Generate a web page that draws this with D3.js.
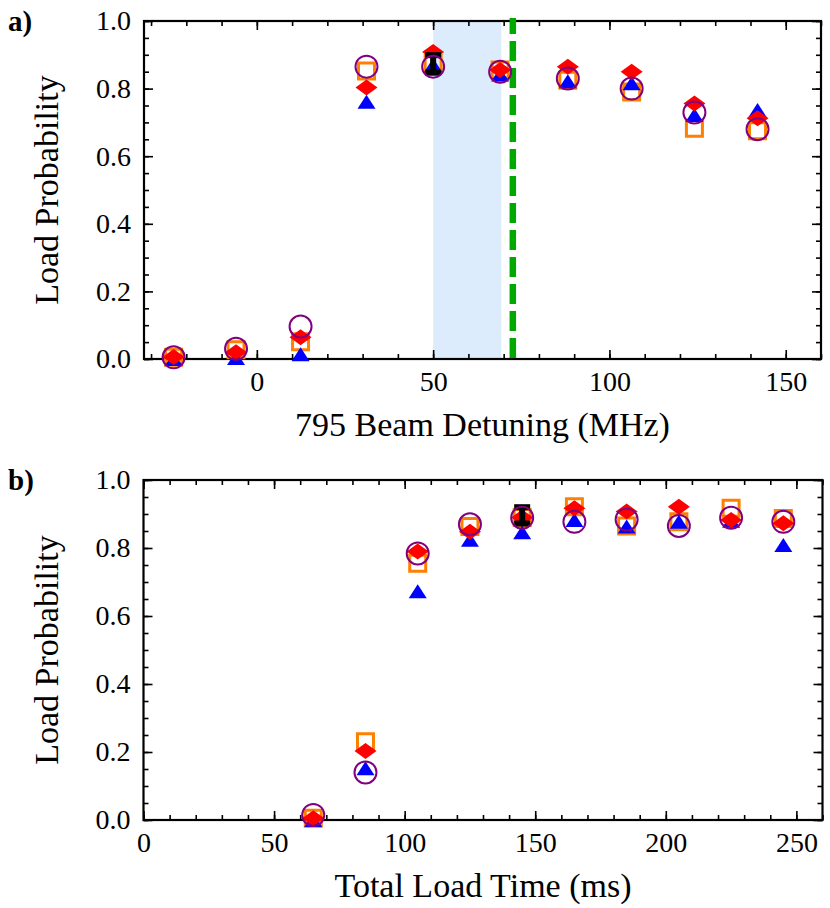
<!DOCTYPE html>
<html>
<head>
<meta charset="utf-8">
<script src="https://cdn.jsdelivr.net/npm/d3@7/dist/d3.min.js"></script>
<style>
  html, body { margin: 0; padding: 0; background: #fff; }
  svg { display: block; }
</style>
</head>
<body>
<svg id="chart" width="830" height="908"></svg>
<script>
// ---------- Panel a) data : 795 beam detuning ----------
const detuning      = [-23.6, -5.9, 12.4, 31.1, 50, 69, 88.2, 106.3, 124.1, 142];
const squaresA      = [0.005, 0.027, 0.051, 0.852, 0.874, 0.855, 0.825, 0.790, 0.683, 0.675];
const trianglesA    = [0.000, 0.003, 0.014, 0.761, 0.870, 0.842, 0.822, 0.816, 0.722, 0.737];
const diamondsA     = [0.006, 0.020, 0.064, 0.803, 0.908, 0.855, 0.865, 0.850, 0.756, 0.712];
const circlesA      = [0.005, 0.030, 0.096, 0.865, 0.865, 0.850, 0.830, 0.800, 0.729, 0.680];
const refPointA     = [{x: 50, y: 0.873, err: 0.026}];
const shadeA        = [50, 69.3];
const dashedLineA   = [72.6];
const xTicksA       = [0, 50, 100, 150];
const xMinorA       = d3.range(-30, 161, 10);

// ---------- Panel b) data : total load time ----------
const loadTime      = [65, 85, 105, 125, 145, 165, 185, 205, 225, 245];
const squaresB      = [0.005, 0.230, 0.755, 0.863, 0.890, 0.921, 0.865, 0.877, 0.917, 0.887];
const trianglesB    = [0.000, 0.152, 0.673, 0.824, 0.846, 0.882, 0.863, 0.877, 0.880, 0.809];
const diamondsB     = [0.005, 0.203, 0.790, 0.848, 0.890, 0.917, 0.907, 0.921, 0.882, 0.873];
const circlesB      = [0.015, 0.140, 0.784, 0.870, 0.889, 0.877, 0.884, 0.865, 0.889, 0.877];
const refPointB     = [{x: 145, y: 0.896, err: 0.024}];
const xTicksB       = [0, 50, 100, 150, 200, 250];
const xMinorB       = d3.range(0, 261, 10);

const yTicks        = [0, 0.2, 0.4, 0.6, 0.8, 1.0];
const yMinor        = d3.range(0, 1.0001, 0.05);

// ---------- styling ----------
const C = {
  square: "#ff8000", triangle: "#0000ff", diamond: "#ff0000",
  circle: "#800080", shade: "#ddecfc", dashed: "#00a800"
};

const svg = d3.select("#chart");

// pick an installed Times-like serif font
const serifCandidates = ["Liberation Serif", "Times New Roman", "Tinos", "TeX Gyre Termes",
  "Nimbus Roman", "Nimbus Roman No9 L", "FreeSerif", "Noto Serif", "DejaVu Serif", "Times"];
function pickFont() {
  const probe = svg.append("text").attr("x", -1000).attr("y", -1000)
    .attr("font-size", 40).text("Load Probability 0.8 MHz");
  probe.attr("font-family", "monospace");
  const wMono = probe.node().getComputedTextLength();
  let chosen = null;
  for (const f of serifCandidates) {
    probe.attr("font-family", `'${f}', monospace`);
    const w = probe.node().getComputedTextLength();
    if (Math.abs(w - wMono) > 0.5) { chosen = f; break; }
  }
  probe.remove();
  return chosen ? `'${chosen}', serif` : "serif";
}
const FONT = pickFont();

// custom symbol shapes
const wideDiamond = { draw(ctx) { const w = 11, h = 8; ctx.moveTo(0, -h); ctx.lineTo(w, 0); ctx.lineTo(0, h); ctx.lineTo(-w, 0); ctx.closePath(); } };
const flatTriangle = { draw(ctx) { const w = 9, h = 14; ctx.moveTo(0, -h * 0.5); ctx.lineTo(w, h * 0.5); ctx.lineTo(-w, h * 0.5); ctx.closePath(); } };
const squareShape = { draw(ctx) { const s = 8; ctx.rect(-s, -s, 2 * s, 2 * s); } };

function panel(cfg) {
  const g = svg.append("g").attr("font-family", FONT);
  const x = d3.scaleLinear().domain(cfg.xDomain).range([cfg.left, cfg.right]);
  const y = d3.scaleLinear().domain([0, 1]).range([cfg.bottom, cfg.top]);

  if (cfg.shade) {
    g.append("rect")
      .attr("x", x(cfg.shade[0])).attr("y", y(1))
      .attr("width", x(cfg.shade[1]) - x(cfg.shade[0]))
      .attr("height", y(0) - y(1))
      .attr("fill", C.shade);
  }

  const major = 9, minor = 5;
  const ax = (axis, tr) => g.append("g").attr("transform", tr).call(axis)
      .attr("font-family", FONT)
      .call(s => s.select(".domain").remove())
      .call(s => s.selectAll("line").attr("stroke", "#000").attr("stroke-width", 1.6));

  ax(d3.axisBottom(x).tickValues(cfg.xMinor).tickSize(-minor).tickFormat(""), `translate(0,${cfg.bottom})`);
  ax(d3.axisTop(x).tickValues(cfg.xMinor).tickSize(-minor).tickFormat(""), `translate(0,${cfg.top})`);
  ax(d3.axisLeft(y).tickValues(yMinor).tickSize(-minor).tickFormat(""), `translate(${cfg.left},0)`);
  ax(d3.axisRight(y).tickValues(yMinor).tickSize(-minor).tickFormat(""), `translate(${cfg.right},0)`);

  const xb = ax(d3.axisBottom(x).tickValues(cfg.xTicks).tickSize(-major).tickPadding(12).tickFormat(d3.format("d")), `translate(0,${cfg.bottom})`);
  xb.selectAll("text").attr("font-size", 28).attr("dy", "0.71em").attr("font-family", FONT).attr("fill", "#000");
  ax(d3.axisTop(x).tickValues(cfg.xTicks).tickSize(-major).tickFormat(""), `translate(0,${cfg.top})`);
  const yl = ax(d3.axisLeft(y).tickValues(yTicks).tickSize(-major).tickPadding(13).tickFormat(d3.format(".1f")), `translate(${cfg.left},0)`);
  yl.selectAll("text").attr("font-size", 28).attr("font-family", FONT).attr("fill", "#000");
  ax(d3.axisRight(y).tickValues(yTicks).tickSize(-major).tickFormat(""), `translate(${cfg.right},0)`);

  g.append("rect")
    .attr("x", cfg.left).attr("y", cfg.top)
    .attr("width", cfg.right - cfg.left).attr("height", cfg.bottom - cfg.top)
    .attr("fill", "none").attr("stroke", "#000").attr("stroke-width", 2.2);

  if (cfg.dashed) {
    g.selectAll(".dash").data(cfg.dashed).join("line")
      .attr("x1", d => x(d)).attr("x2", d => x(d))
      .attr("y1", y(1) - 3).attr("y2", y(0) + 3)
      .attr("stroke", C.dashed).attr("stroke-width", 6.5)
      .attr("stroke-dasharray", "20,7").attr("stroke-dashoffset", 4);
  }

  const pts = (vals) => cfg.xs.map((xv, i) => ({ x: xv, v: vals[i] }));
  const marks = (vals, type, fill, stroke, sw) => g.append("g").selectAll("path").data(pts(vals)).join("path")
      .attr("transform", d => `translate(${x(d.x)},${y(d.v)})`)
      .attr("d", d3.symbol().type(type))
      .attr("fill", fill).attr("stroke", stroke).attr("stroke-width", sw);

  marks(cfg.squares, squareShape, "none", C.square, 3);
  marks(cfg.triangles, flatTriangle, C.triangle, "none", 0);
  marks(cfg.diamonds, wideDiamond, C.diamond, "none", 0);

  const ref = g.append("g").selectAll("g").data(cfg.ref).join("g");
  ref.append("line")
    .attr("x1", d => x(d.x)).attr("x2", d => x(d.x))
    .attr("y1", d => y(d.y + d.err)).attr("y2", d => y(d.y - d.err))
    .attr("stroke", "#000").attr("stroke-width", 6);
  ref.append("line")
    .attr("x1", d => x(d.x) - 8).attr("x2", d => x(d.x) + 8)
    .attr("y1", d => y(d.y + d.err)).attr("y2", d => y(d.y + d.err))
    .attr("stroke", "#000").attr("stroke-width", 6);
  ref.append("line")
    .attr("x1", d => x(d.x) - 8).attr("x2", d => x(d.x) + 8)
    .attr("y1", d => y(d.y - d.err)).attr("y2", d => y(d.y - d.err))
    .attr("stroke", "#000").attr("stroke-width", 6);

  g.append("g").selectAll("circle").data(pts(cfg.circles)).join("circle")
    .attr("cx", d => x(d.x)).attr("cy", d => y(d.v)).attr("r", 11)
    .attr("fill", "none").attr("stroke", C.circle).attr("stroke-width", 2);

  g.append("text").attr("x", 8).attr("y", cfg.top + 10)
    .attr("font-size", 29).attr("font-weight", "bold").text(cfg.tag);
  g.append("text")
    .attr("transform", `translate(58,${(cfg.top + cfg.bottom) / 2}) rotate(-90)`)
    .attr("text-anchor", "middle").attr("font-size", 34).text("Load Probability");
  g.append("text")
    .attr("x", (cfg.left + cfg.right) / 2).attr("y", cfg.bottom + 77)
    .attr("text-anchor", "middle").attr("font-size", 34).text(cfg.xTitle);
}

panel({
  tag: "a)", xTitle: "795 Beam Detuning (MHz)",
  left: 144, right: 821, top: 21, bottom: 359,
  xDomain: [-32, 160], xTicks: xTicksA, xMinor: xMinorA,
  xs: detuning, squares: squaresA, triangles: trianglesA, diamonds: diamondsA, circles: circlesA,
  ref: refPointA, shade: shadeA, dashed: dashedLineA
});

panel({
  tag: "b)", xTitle: "Total Load Time (ms)",
  left: 143.5, right: 822.5, top: 480, bottom: 820,
  xDomain: [0, 260], xTicks: xTicksB, xMinor: xMinorB,
  xs: loadTime, squares: squaresB, triangles: trianglesB, diamonds: diamondsB, circles: circlesB,
  ref: refPointB
});
</script>
</body>
</html>
